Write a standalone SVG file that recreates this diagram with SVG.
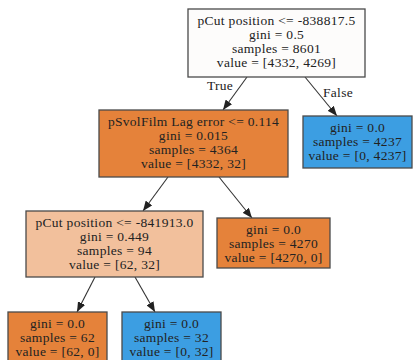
<svg xmlns="http://www.w3.org/2000/svg" width="413" height="360" viewBox="0 0 413 360">
<style>
.box{stroke:#4a4a4a;stroke-width:1.3}
.t{font-family:"Liberation Serif","Times New Roman",serif;font-size:13.5px;letter-spacing:0.3px;fill:#222;text-anchor:middle}
.e{stroke:#333;stroke-width:1.1;fill:none;marker-end:url(#ah)}
.w{fill:#fdfcfb}.o{fill:#e5823a}.lo{fill:#f2c09c}.b{fill:#3c9ee2}
</style>
<defs>
<marker id="ah" markerUnits="userSpaceOnUse" markerWidth="10" markerHeight="8" refX="10" refY="4" orient="auto">
<path d="M0,0 L10,4 L0,8 z" fill="#222"/>
</marker>
</defs>
<rect width="413" height="360" fill="#ffffff"/>
<g id="connectors">
<line class="e" x1="247" y1="77" x2="223" y2="110"/>
<line class="e" x1="305" y1="77" x2="337" y2="116"/>
<line class="e" x1="168" y1="177" x2="143" y2="211"/>
<line class="e" x1="219" y1="177" x2="252" y2="218"/>
<line class="e" x1="95" y1="277" x2="77" y2="312"/>
<line class="e" x1="135" y1="277" x2="155" y2="312"/>
<text class="t" x="220" y="90">True</text>
<text class="t" x="338" y="97">False</text>
</g>
<g id="root">
<rect class="box w" x="188" y="9" width="177" height="68"/>
<text class="t" x="276.5" y="25">pCut position &lt;= -838817.5</text>
<text class="t" x="276.5" y="39">gini = 0.5</text>
<text class="t" x="276.5" y="53">samples = 8601</text>
<text class="t" x="276.5" y="67">value = [4332, 4269]</text>
</g>
<g id="n1">
<rect class="box o" x="99" y="110" width="189" height="67"/>
<text class="t" x="193.5" y="126">pSvolFilm Lag error &lt;= 0.114</text>
<text class="t" x="193.5" y="140">gini = 0.015</text>
<text class="t" x="193.5" y="154">samples = 4364</text>
<text class="t" x="193.5" y="168">value = [4332, 32]</text>
</g>
<g id="n_false">
<rect class="box b" x="303" y="116" width="109" height="52"/>
<text class="t" x="357.5" y="132">gini = 0.0</text>
<text class="t" x="357.5" y="146">samples = 4237</text>
<text class="t" x="357.5" y="160">value = [0, 4237]</text>
</g>
<g id="n2">
<rect class="box lo" x="26" y="211" width="177" height="66"/>
<text class="t" x="114.5" y="227">pCut position &lt;= -841913.0</text>
<text class="t" x="114.5" y="241">gini = 0.449</text>
<text class="t" x="114.5" y="255">samples = 94</text>
<text class="t" x="114.5" y="269">value = [62, 32]</text>
</g>
<g id="n4270">
<rect class="box o" x="217" y="218" width="113" height="50"/>
<text class="t" x="273.5" y="234">gini = 0.0</text>
<text class="t" x="273.5" y="248">samples = 4270</text>
<text class="t" x="273.5" y="262">value = [4270, 0]</text>
</g>
<g id="n62">
<rect class="box o" x="8" y="312" width="99" height="52"/>
<text class="t" x="57.5" y="328">gini = 0.0</text>
<text class="t" x="57.5" y="342">samples = 62</text>
<text class="t" x="57.5" y="356">value = [62, 0]</text>
</g>
<g id="n32">
<rect class="box b" x="122" y="312" width="99" height="52"/>
<text class="t" x="171.5" y="328">gini = 0.0</text>
<text class="t" x="171.5" y="342">samples = 32</text>
<text class="t" x="171.5" y="356">value = [0, 32]</text>
</g>
</svg>
